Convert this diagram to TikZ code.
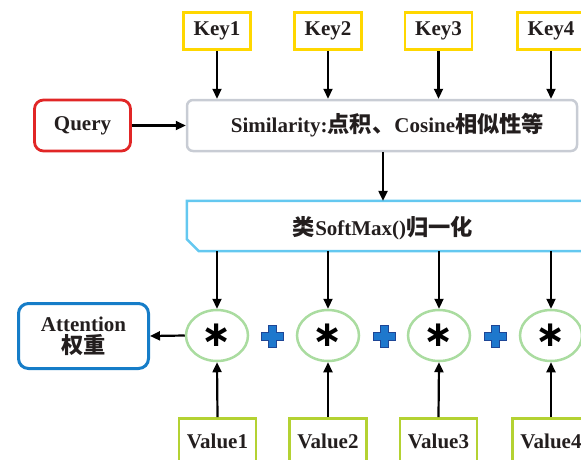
\documentclass[tikz,border=0pt]{standalone}
\usepackage{fontspec}
\setmainfont{Liberation Serif}
\newfontfamily\cjk[Scale=1.06]{Noto Sans CJK SC}
\newfontfamily\symf{DejaVu Sans}
\usetikzlibrary{arrows.meta,shapes.geometric}
\definecolor{keyc}{RGB}{255,215,0}
\definecolor{queryc}{RGB}{225,38,38}
\definecolor{simc}{RGB}{200,204,212}
\definecolor{smc}{RGB}{100,200,240}
\definecolor{circc}{RGB}{170,220,160}
\definecolor{attc}{RGB}{22,125,200}
\definecolor{valc}{RGB}{180,210,50}
\definecolor{plusc}{RGB}{30,120,205}
\definecolor{plusd}{RGB}{30,70,150}
\definecolor{textc}{RGB}{35,30,30}
\begin{document}
\begin{tikzpicture}[x=1pt,y=-1pt,
  txt/.style={font=\fontsize{21}{24}\selectfont\bfseries, text=textc, inner sep=0pt},
  keybox/.style={txt, draw=keyc, line width=2.8pt, minimum width=67pt, minimum height=37pt},
  valbox/.style={draw=valc, line width=2.8pt, minimum width=77pt, minimum height=60pt, inner sep=0pt},
  querybox/.style={txt, draw=queryc, line width=2.8pt, rounded corners=9pt, minimum width=96pt, minimum height=51pt},
  simbox/.style={txt, draw=simc, line width=2.5pt, rounded corners=6pt, minimum width=390pt, minimum height=51pt},
  attbox/.style={txt, draw=attc, line width=3pt, rounded corners=10pt, minimum width=130pt, minimum height=65pt, align=center, font=\fontsize{21}{22}\selectfont\bfseries},
  mulnode/.style={ellipse, draw=circc, line width=2.5pt, minimum width=62pt, minimum height=51pt, inner sep=0pt, font=\symf\fontsize{36}{36}\selectfont\bfseries, text=black},
  arr/.style={line width=2.2pt, -{Triangle[length=10pt,width=9pt]}},
  plussign/.pic={\filldraw[fill=plusc, draw=plusd, line width=0.8pt]
     (-4,-11) -- (4,-11) -- (4,-4) -- (11,-4) -- (11,4) -- (4,4) -- (4,11) -- (-4,11) -- (-4,4) -- (-11,4) -- (-11,-4) -- (-4,-4) -- cycle;}
]
\useasboundingbox (0,0) rectangle (581,459);
\clip (0,0) rectangle (581,459);

% keys
\node[keybox] (k1) at (217,31) {Key1};
\node[keybox] (k2) at (328,31) {Key2};
\node[keybox] (k3) at (438.5,31) {Key3};
\node[keybox] (k4) at (551,31) {Key4};

% query and similarity
\node[querybox] (q) at (82.5,125.5) {Query};
\node[simbox] (sim) at (382,125.5) {\hspace*{11pt}Similarity:{\cjk 点积、}Cosine{\cjk 相似性等}};

\foreach \k in {k1,k2,k3,k4} \draw[arr] (\k.south) -- (\k.south |- sim.north);
\draw[arr] (q.east) -- (sim.west |- q.east);

% softmax box
\node[minimum width=414pt, minimum height=50pt, inner sep=0pt] (sm) at (394,226) {};
\draw[smc, line width=2.5pt, line join=miter]
  (sm.north west) -- ([xshift=-12pt]sm.north east) -- ([yshift=-12pt]sm.north east)
  -- (sm.south east) -- ([xshift=12pt]sm.south west) -- ([yshift=12pt]sm.south west) -- cycle;
\node[txt] (smt) at (383,228) {{\cjk 类}SoftMax(){\cjk 归一化}};
\draw[arr] (sim.south -| smt.north) -- (sm.north -| smt.north);

% multiplications
\node[mulnode] (c1) at (217,335.5) {∗};
\node[mulnode] (c2) at (328,335.5) {∗};
\node[mulnode] (c3) at (439,335.5) {∗};
\node[mulnode] (c4) at (551,335.5) {∗};
\foreach \c in {c1,c2,c3,c4} \draw[arr] (\c.north |- sm.south) -- (\c.north);

\pic at (272.5,336) {plussign};
\pic at (384,336) {plussign};
\pic at (495.5,336) {plussign};

% attention
\node[attbox] (att) at (83.5,336) {Attention\\{\cjk 权重}};
\draw[arr] (c1.west) -- (att.east);

% values
\node[valbox] (v1) at (217.5,448.5) {};
\node[valbox] (v2) at (328,448.5) {};
\node[valbox] (v3) at (438.5,448.5) {};
\node[valbox] (v4) at (551,448.5) {};
\node[txt] (v1t) at (217.5,441) {Value1};
\node[txt] (v2t) at (328,441) {Value2};
\node[txt] (v3t) at (438.5,441) {Value3};
\node[txt] (v4t) at (551,441) {Value4};
\draw[arr] (v1.north) -- (c1.south);
\draw[arr] (v2.north) -- (c2.south);
\draw[arr] (v3.north) -- (c3.south);
\draw[arr] (v4.north) -- (c4.south);
\end{tikzpicture}
\end{document}
